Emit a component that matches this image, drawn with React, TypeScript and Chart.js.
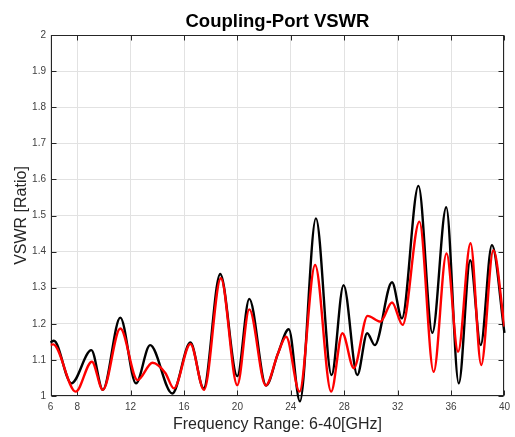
import React, { useEffect, useRef } from "react";
import { Chart, registerables } from "chart.js";

Chart.register(...registerables);

const titleText = "Coupling-Port VSWR";
const xTitle = "Frequency Range: 6-40[GHz]";
const yTitle = "VSWR [Ratio]";

const xTickValues = [6, 8, 12, 16, 20, 24, 28, 32, 36, 40];

const blackFreq = [6, 6.25, 7.57, 9.06, 9.92, 11.23, 12.4, 13.46, 15.12, 16.48, 17.47, 18.71, 19.99, 20.89, 22.15, 23.04, 23.85, 24.68, 25.88, 27.05, 27.95, 28.98, 29.72, 30.29, 31.58, 32.32, 33.56, 34.6, 35.64, 36.58, 37.44, 38.22, 39.06, 40];
const blackVswr = [1.148, 1.153, 1.035, 1.127, 1.017, 1.217, 1.035, 1.141, 1.007, 1.148, 1.021, 1.338, 1.055, 1.269, 1.029, 1.118, 1.185, 0.985, 1.492, 1.058, 1.307, 1.058, 1.174, 1.141, 1.315, 1.215, 1.582, 1.175, 1.523, 1.035, 1.376, 1.141, 1.418, 1.175];

const redFreq = [6, 6.2, 7.89, 9.1, 9.92, 11.23, 12.52, 13.64, 14.6, 15.24, 16.48, 17.5, 18.76, 19.99, 20.89, 22.12, 23.04, 23.65, 24.65, 25.82, 27.02, 27.86, 28.72, 29.75, 30.71, 31.58, 32.37, 33.63, 34.7, 35.66, 36.53, 37.46, 38.26, 39.17, 40];
const redVswr = [1.142, 1.143, 1.012, 1.095, 1.017, 1.187, 1.044, 1.092, 1.064, 1.021, 1.144, 1.017, 1.326, 1.03, 1.24, 1.029, 1.118, 1.164, 1.012, 1.363, 1.012, 1.174, 1.077, 1.222, 1.206, 1.259, 1.197, 1.483, 1.067, 1.395, 1.123, 1.423, 1.086, 1.404, 1.192];

const FONT = "'Liberation Sans', Arial, Helvetica, sans-serif";

const boxPlugin = {
  id: "matlabBox",
  beforeDatasetsDraw(chart: any) {
    const { ctx, chartArea, scales } = chart;
    const l = Math.round(chartArea.left) + 0.5;
    const r = Math.round(chartArea.right) - 0.5;
    const t = Math.round(chartArea.top) + 0.5;
    const b = Math.round(chartArea.bottom) - 0.5;
    ctx.save();
    ctx.strokeStyle = "#262626";
    ctx.lineWidth = 1;
    ctx.strokeRect(l, t, r - l, b - t);
    const tl = 5;
    ctx.beginPath();
    for (const v of xTickValues) {
      const px = Math.round(scales.x.getPixelForValue(v)) + 0.5;
      ctx.moveTo(px, b);
      ctx.lineTo(px, b - tl);
      ctx.moveTo(px, t);
      ctx.lineTo(px, t + tl);
    }
    for (const tk of scales.y.ticks) {
      const py = Math.round(scales.y.getPixelForValue(tk.value)) + 0.5;
      ctx.moveTo(l, py);
      ctx.lineTo(l + tl, py);
      ctx.moveTo(r, py);
      ctx.lineTo(r - tl, py);
    }
    ctx.stroke();
    ctx.restore();
  },
};

export default function App() {
  const ref = useRef<HTMLCanvasElement | null>(null);
  useEffect(() => {
    document.body.style.margin = "0";
    const canvas = ref.current;
    if (!canvas) return;
    const chart = new Chart(canvas, {
      type: "line",
      data: {
        datasets: [
          {
            label: "red",
            data: redFreq.map((f, i) => ({ x: f, y: redVswr[i] })),
            borderColor: "#ff0000",
            borderWidth: 2.4,
            pointRadius: 0,
            fill: false,
            cubicInterpolationMode: "monotone",
            order: 0,
          },
          {
            label: "black",
            data: blackFreq.map((f, i) => ({ x: f, y: blackVswr[i] })),
            borderColor: "#000000",
            borderWidth: 2.4,
            pointRadius: 0,
            fill: false,
            cubicInterpolationMode: "monotone",
            clip: false,
            order: 1,
          },
        ],
      },
      options: {
        animation: false,
        responsive: false,
        devicePixelRatio: 1,
        layout: { padding: { left: 0, right: 6.5, top: 0, bottom: 0 } },
        plugins: {
          legend: { display: false },
          tooltip: { enabled: false },
          title: {
            display: true,
            text: titleText,
            fullSize: false,
            color: "#000",
            font: { family: FONT, size: 18.5, weight: "bold" },
            padding: { top: 10.4, bottom: 2.4 },
          },
        },
        scales: {
          x: {
            type: "linear",
            min: 6,
            max: 40,
            afterBuildTicks: (scale: any) => {
              scale.ticks = xTickValues.map((value) => ({ value }));
            },
            afterFit: (scale: any) => {
              scale.height = 41;
            },
            grid: { color: "#e2e2e2", drawTicks: false, lineWidth: 1 },
            border: { display: false },
            ticks: {
              color: "#404040",
              font: { family: FONT, size: 10 },
              padding: 5,
              maxRotation: 0,
              autoSkip: false,
              callback: (v: any) => String(v),
            },
            title: {
              display: true,
              text: xTitle,
              color: "#262626",
              font: { family: FONT, size: 16 },
              padding: { top: 0, bottom: 2.4 },
            },
          },
          y: {
            type: "linear",
            min: 1,
            max: 2,
            afterFit: (scale: any) => {
              scale.width = 50.5;
            },
            grid: { color: "#e2e2e2", drawTicks: false, lineWidth: 1 },
            border: { display: false },
            ticks: {
              stepSize: 0.1,
              color: "#404040",
              font: { family: FONT, size: 10 },
              padding: 4.5,
              callback: (v: any) => String(Math.round(Number(v) * 10) / 10),
            },
            title: {
              display: true,
              text: yTitle,
              color: "#262626",
              font: { family: FONT, size: 16 },
              padding: { top: 12, bottom: 0 },
            },
          },
        },
      },
      plugins: [boxPlugin],
    } as any);
    return () => chart.destroy();
  }, []);
  return (
    <div style={{ position: "absolute", left: 0, top: 0, width: 515, height: 437, background: "#fff" }}>
      <canvas ref={ref} width={515} height={437} style={{ width: 515, height: 437, display: "block" }} />
    </div>
  );
}
